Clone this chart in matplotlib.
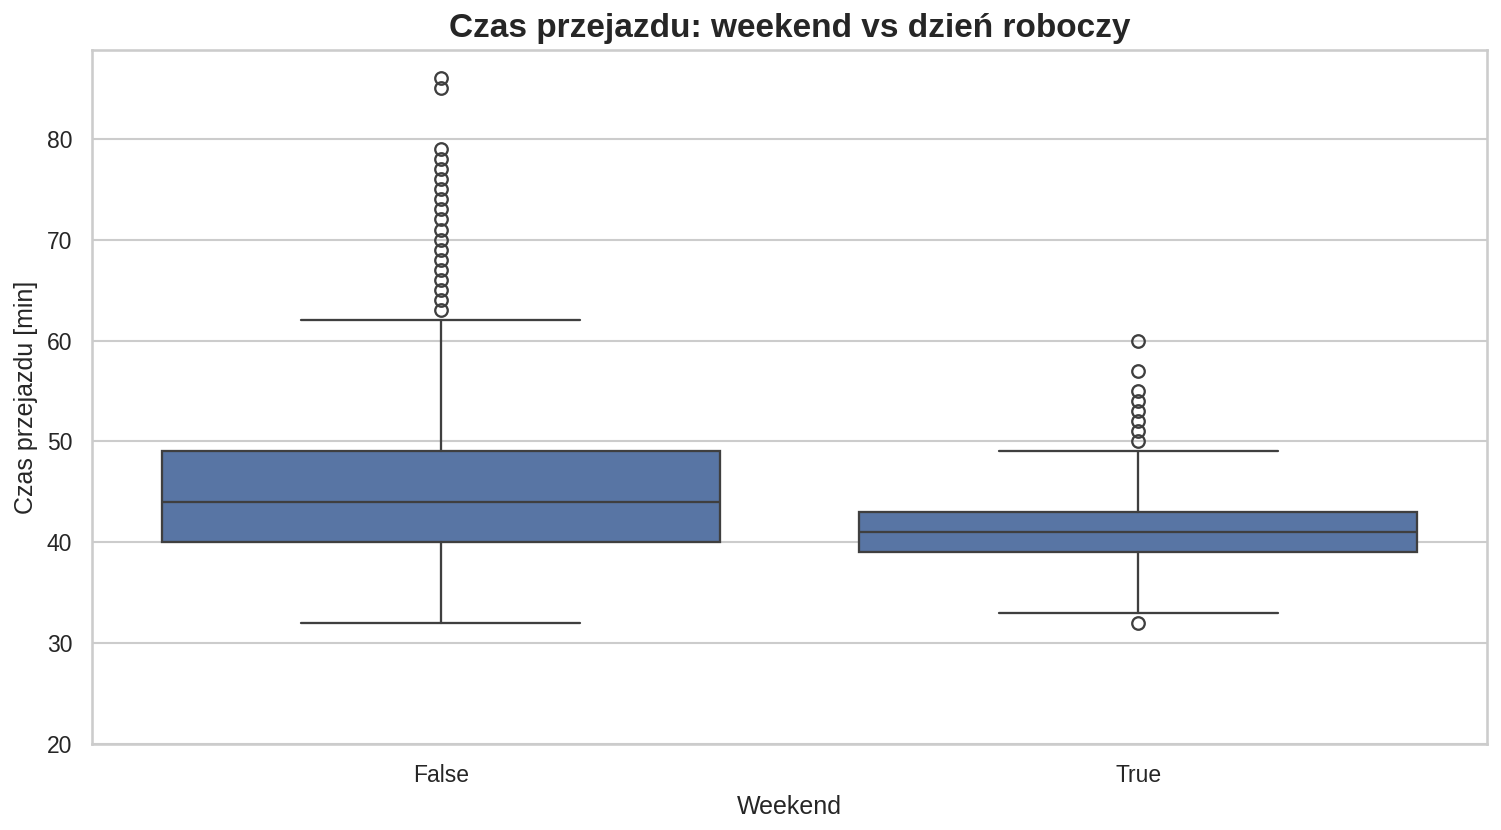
import matplotlib
matplotlib.use("Agg")
import matplotlib.pyplot as plt
import seaborn as sns

# box statistics, travel time in minutes
groups = ["False", "True"]
q1 = [40, 39]
median = [44, 41]
q3 = [49, 43]
whisker_low = [32, 33]
whisker_high = [62, 49]
outliers_false = [63, 64, 65, 66, 67, 68, 69, 70, 71, 72, 73, 74, 75, 76, 77, 78, 79, 85, 86]
outliers_true = [32, 50, 51, 52, 53, 54, 55, 57, 60]

sns.set_theme(style="whitegrid")
plt.rcParams['font.family'] = ['Liberation Sans', 'DejaVu Sans']

fig = plt.figure(figsize=(1501 / 150, 830 / 150), dpi=150)
ax = fig.add_axes([92 / 1501, 1 - 744 / 830, (1487 - 92) / 1501, (744 - 50) / 830])

fliers = [outliers_false, outliers_true]
stats = []
for i, g in enumerate(groups):
    stats.append(dict(label=g, q1=q1[i], med=median[i], q3=q3[i],
                      whislo=whisker_low[i], whishi=whisker_high[i],
                      fliers=fliers[i]))

line_col = "#3f3f3f"
ax.bxp(stats, positions=range(len(groups)), widths=0.8, patch_artist=True,
       manage_ticks=False, capwidths=0.4,
       boxprops=dict(facecolor="#5875a4", edgecolor=line_col, linewidth=1.1),
       medianprops=dict(color=line_col, linewidth=1.1),
       whiskerprops=dict(color=line_col, linewidth=1.1),
       capprops=dict(color=line_col, linewidth=1.1),
       flierprops=dict(marker="o", markerfacecolor="none", markeredgecolor=line_col,
                       markersize=6, markeredgewidth=1.1))

ax.set_xticks(range(len(groups)))
ax.set_xticklabels(groups)
ax.set_xlim(-0.5, 1.5)
ax.set_ylim(20, 88.8)
ax.set_yticks([20, 30, 40, 50, 60, 70, 80])
ax.xaxis.grid(False)
ax.tick_params(labelsize=11)
ax.set_xlabel("Weekend", fontsize=12)
ax.set_ylabel("Czas przejazdu [min]", fontsize=12)
ax.set_title("Czas przejazdu: weekend vs dzień roboczy", fontsize=16, fontweight="bold")

fig.savefig("out.png", dpi=150)
